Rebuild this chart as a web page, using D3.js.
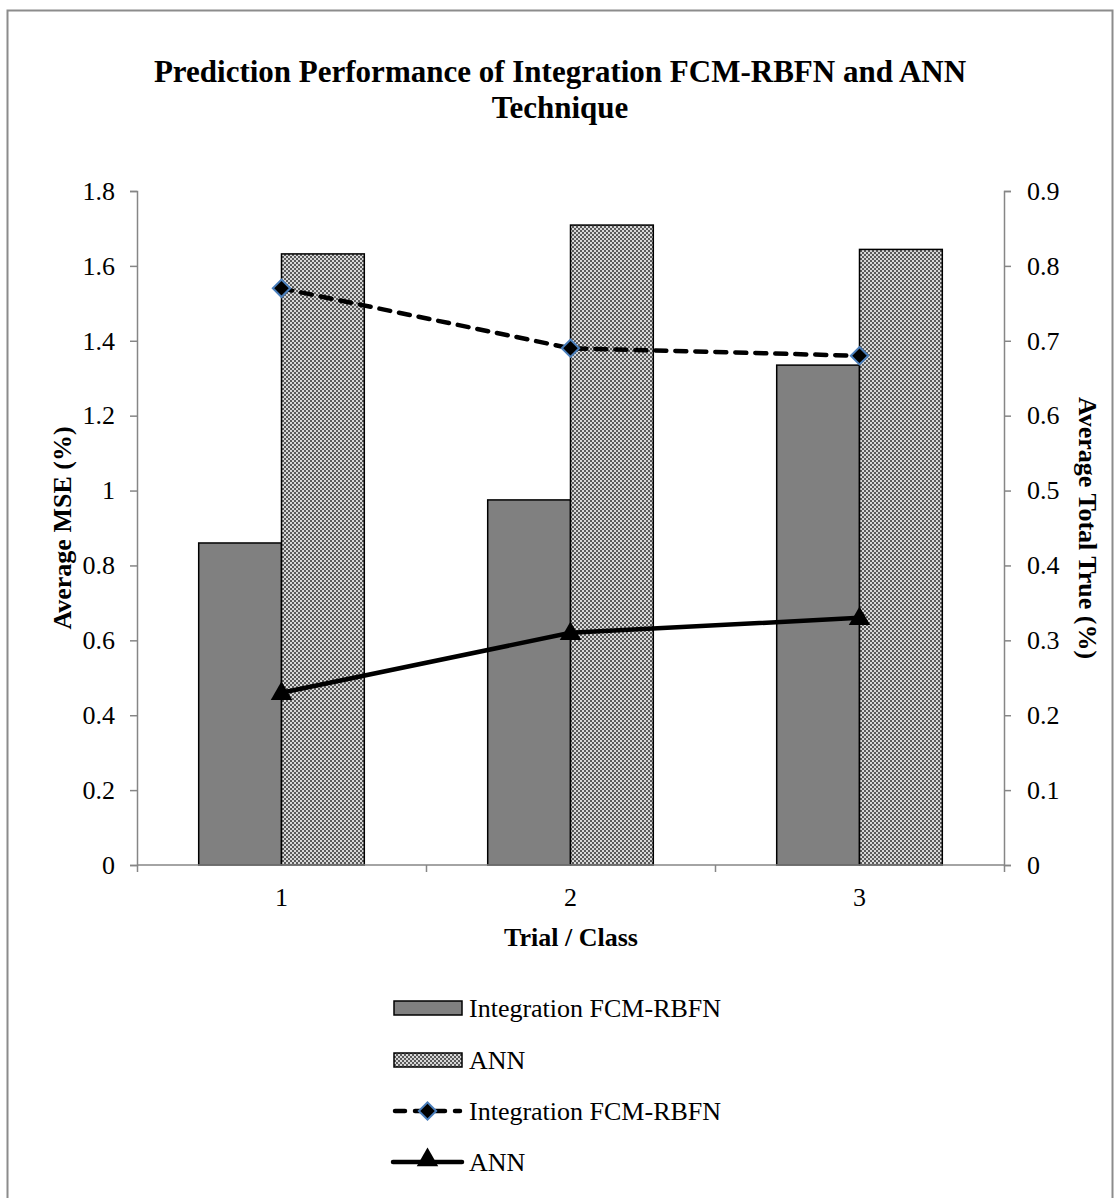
<!DOCTYPE html>
<html>
<head>
<meta charset="utf-8">
<script src="https://cdn.jsdelivr.net/npm/d3@7"></script>
<style>
  body { margin: 0; background: #fff; }
  svg text { font-family: "Liberation Serif", "Times New Roman", serif; fill: #000; }
</style>
</head>
<body>
<div id="chart"></div>
<script>
// data
const categories = ["1", "2", "3"];
const barSeriesNames = ["Integration FCM-RBFN", "ANN"];
const mseFcm = [0.86, 0.975, 1.335];
const mseAnn = [1.632, 1.709, 1.644];
const trueFcm = [0.77, 0.69, 0.68];
const trueAnn = [0.23, 0.31, 0.33];
const leftTicks = [0, 0.2, 0.4, 0.6, 0.8, 1, 1.2, 1.4, 1.6, 1.8];
const rightTicks = [0, 0.1, 0.2, 0.3, 0.4, 0.5, 0.6, 0.7, 0.8, 0.9];

const width = 1119;
const height = 1198;
const plot = { left: 137, right: 1004, top: 191, bottom: 865 };
const fontSize = "26px";

const svg = d3.select("#chart")
    .append("svg")
    .attr("width", width)
    .attr("height", height);

// checkered fill for the ANN bars
const pat = svg.append("defs").append("pattern")
    .attr("id", "checker")
    .attr("patternUnits", "userSpaceOnUse")
    .attr("width", 4)
    .attr("height", 4);
pat.append("rect").attr("width", 4).attr("height", 4).attr("fill", "#5a5a5a");
pat.append("rect").attr("x", 0).attr("y", 0).attr("width", 2).attr("height", 2).attr("fill", "#d8d8d8");
pat.append("rect").attr("x", 2).attr("y", 2).attr("width", 2).attr("height", 2).attr("fill", "#d8d8d8");

// chart frame
svg.append("rect")
    .attr("x", 7.5).attr("y", 10.5)
    .attr("width", 1105).attr("height", 1250)
    .attr("fill", "none")
    .attr("stroke", "#8c8c8c")
    .attr("stroke-width", 2);

const x = d3.scaleBand().domain(categories).range([plot.left, plot.right]).paddingInner(0).paddingOuter(0);
const yLeft = d3.scaleLinear().domain([0, 1.8]).range([plot.bottom, plot.top]);
const yRight = d3.scaleLinear().domain([0, 0.9]).range([plot.bottom, plot.top]);

const barW = x.bandwidth() * 0.2865;
const barOff = (x.bandwidth() - 2 * barW) / 2;

// bars
const barData = categories.map((c, i) => [
    { c, v: mseFcm[i], k: 0 },
    { c, v: mseAnn[i], k: 1 }
]).flat();

svg.selectAll(".bar")
    .data(barData)
    .enter()
    .append("rect")
    .attr("class", "bar")
    .attr("x", d => x(d.c) + barOff + d.k * barW)
    .attr("y", d => yLeft(d.v))
    .attr("width", barW)
    .attr("height", d => yLeft(0) - yLeft(d.v))
    .attr("fill", d => d.k === 0 ? "#808080" : "url(#checker)")
    .attr("stroke", "#000")
    .attr("stroke-width", 1.5);

// axes
const axisColor = "#868686";
function styleAxis(g) {
    g.selectAll(".domain").attr("stroke", axisColor).attr("stroke-width", 1.5);
    g.selectAll(".tick line").attr("stroke", axisColor).attr("stroke-width", 1.5);
    g.selectAll(".tick text")
        .style("font-family", "'Liberation Serif', serif")
        .style("font-size", fontSize)
        .attr("fill", "#000");
}

svg.append("g")
    .attr("transform", `translate(${plot.left},0)`)
    .call(d3.axisLeft(yLeft).tickValues(leftTicks).tickSize(7).tickPadding(15).tickFormat(d3.format("")))
    .call(styleAxis);

svg.append("g")
    .attr("transform", `translate(${plot.right},0)`)
    .call(d3.axisRight(yRight).tickValues(rightTicks).tickSize(7).tickPadding(16).tickFormat(d3.format("")))
    .call(styleAxis);

// category axis: ticks on band edges, labels at centres
const xEdges = d3.scaleLinear().domain([0, categories.length]).range([plot.left, plot.right]);
const gBottom = svg.append("g")
    .attr("transform", `translate(0,${plot.bottom})`)
    .call(d3.axisBottom(xEdges).tickValues(d3.range(categories.length + 1)).tickSize(7).tickFormat(""))
    .call(styleAxis);
gBottom.selectAll(".domain").attr("d", `M${plot.left},0H${plot.right}`);

svg.selectAll(".xlab")
    .data(categories)
    .enter()
    .append("text")
    .attr("class", "xlab")
    .attr("x", d => x(d) + x.bandwidth() / 2)
    .attr("y", plot.bottom + 41)
    .attr("text-anchor", "middle")
    .style("font-size", fontSize)
    .text(d => d);

// lines on the right axis
const cx = (d, i) => x(categories[i]) + x.bandwidth() / 2;

const lineGen = d3.line().x((d, i) => cx(d, i)).y(d => yRight(d));
svg.append("path")
    .datum(trueFcm)
    .attr("d", lineGen)
    .attr("fill", "none")
    .attr("stroke", "#000")
    .attr("stroke-width", 4.5)
    .attr("stroke-dasharray", "11,9")
    .attr("stroke-linecap", "round");

svg.append("path")
    .datum(trueAnn)
    .attr("d", lineGen)
    .attr("fill", "none")
    .attr("stroke", "#000")
    .attr("stroke-width", 4.5);

const diamond = d3.symbol().type(d3.symbolSquare).size(150);
svg.selectAll(".dia")
    .data(trueFcm)
    .enter()
    .append("path")
    .attr("class", "dia")
    .attr("d", diamond)
    .attr("transform", (d, i) => `translate(${cx(d, i)},${yRight(d)}) rotate(45)`)
    .attr("fill", "#000")
    .attr("stroke", "#4a7ebb")
    .attr("stroke-width", 2);

const tri = d3.symbol().type(d3.symbolTriangle).size(200);
svg.selectAll(".tri")
    .data(trueAnn)
    .enter()
    .append("path")
    .attr("class", "tri")
    .attr("d", tri)
    .attr("transform", (d, i) => `translate(${cx(d, i)},${yRight(d) + 1})`)
    .attr("fill", "#000");

// titles
const title = svg.append("text")
    .attr("text-anchor", "middle")
    .style("font-size", "31px")
    .style("font-weight", "bold");
title.append("tspan").attr("x", 560).attr("y", 82).text("Prediction Performance of Integration FCM-RBFN and ANN");
title.append("tspan").attr("x", 560).attr("y", 118).text("Technique");

svg.append("text")
    .attr("transform", `translate(71,${(plot.top + plot.bottom) / 2}) rotate(-90)`)
    .attr("text-anchor", "middle")
    .style("font-size", fontSize)
    .style("font-weight", "bold")
    .text("Average MSE (%)");

svg.append("text")
    .attr("transform", `translate(1079,${(plot.top + plot.bottom) / 2}) rotate(90)`)
    .attr("text-anchor", "middle")
    .style("font-size", fontSize)
    .style("font-weight", "bold")
    .text("Average Total True (%)");

svg.append("text")
    .attr("x", 571)
    .attr("y", 946)
    .attr("text-anchor", "middle")
    .style("font-size", fontSize)
    .style("font-weight", "bold")
    .text("Trial / Class");

// legend
const legendY = [1008, 1060, 1111, 1162];
const lx0 = 393, lx1 = 462, ltext = 469;

[0, 1].forEach(k => {
    svg.append("rect")
        .attr("x", lx0 + 1).attr("y", legendY[k] - 7)
        .attr("width", lx1 - lx0 - 1).attr("height", 14)
        .attr("fill", k === 0 ? "#808080" : "url(#checker)")
        .attr("stroke", "#000")
        .attr("stroke-width", 1.5);
    svg.append("text")
        .attr("x", ltext).attr("y", legendY[k] + 9)
        .style("font-size", fontSize)
        .text(barSeriesNames[k]);
});

svg.append("line")
    .attr("x1", lx0 + 2).attr("x2", lx1 - 2)
    .attr("y1", legendY[2]).attr("y2", legendY[2])
    .attr("stroke", "#000").attr("stroke-width", 4.5)
    .attr("stroke-dasharray", "10,10").attr("stroke-linecap", "round");
svg.append("path")
    .attr("d", diamond)
    .attr("transform", `translate(${(lx0 + lx1) / 2},${legendY[2]}) rotate(45)`)
    .attr("fill", "#000").attr("stroke", "#4a7ebb").attr("stroke-width", 2);
svg.append("text")
    .attr("x", ltext).attr("y", legendY[2] + 9)
    .style("font-size", fontSize)
    .text(barSeriesNames[0]);

svg.append("line")
    .attr("x1", lx0).attr("x2", lx1)
    .attr("y1", legendY[3]).attr("y2", legendY[3])
    .attr("stroke", "#000").attr("stroke-width", 4.5).attr("stroke-linecap", "round");
svg.append("path")
    .attr("d", tri)
    .attr("transform", `translate(${(lx0 + lx1) / 2},${legendY[3] - 2})`)
    .attr("fill", "#000");
svg.append("text")
    .attr("x", ltext).attr("y", legendY[3] + 9)
    .style("font-size", fontSize)
    .text(barSeriesNames[1]);
</script>
</body>
</html>
